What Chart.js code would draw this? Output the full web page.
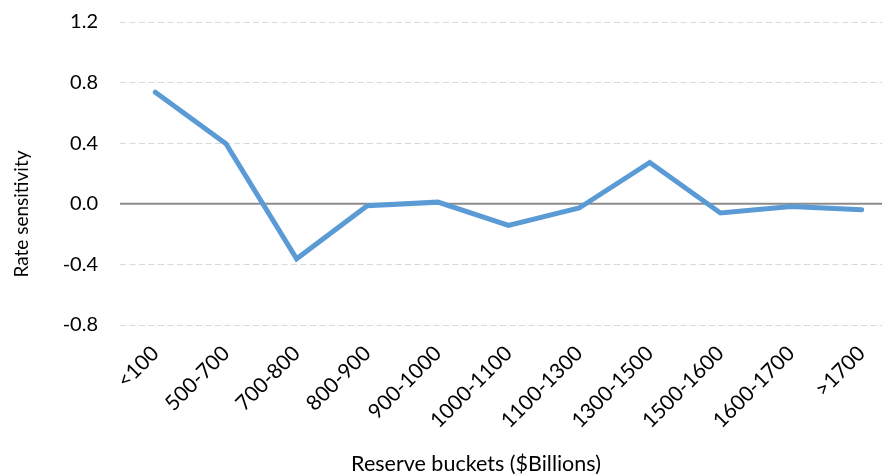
<!DOCTYPE html>
<html>
<head>
<meta charset="utf-8">
<script src="https://cdn.jsdelivr.net/npm/chart.js@4/dist/chart.umd.min.js"></script>
<style>
  html, body { margin: 0; padding: 0; background: #fff; }
  #wrap { width: 882px; height: 475px; overflow: hidden; position: relative; background: #fff; }
  canvas { display: block; }
</style>
</head>
<body>
<div id="wrap"><canvas id="c" width="900" height="475"></canvas></div>
<script>
const categories = ['<100', '500-700', '700-800', '800-900', '900-1000', '1000-1100', '1100-1300', '1300-1500', '1500-1600', '1600-1700', '>1700'];
const rateSensitivity = [0.737, 0.396, -0.363, -0.013, 0.011, -0.143, -0.028, 0.273, -0.061, -0.018, -0.040];
const yTicks = [-0.8, -0.4, 0.0, 0.4, 0.8, 1.2];
const xTitle = 'Reserve buckets ($Billions)';
const yTitle = 'Rate sensitivity';

const FONT = 'Lato, "Open Sans", sans-serif';

const zeroLine = {
  id: 'zeroLine',
  beforeDatasetsDraw(chart) {
    const y = chart.scales.y.getPixelForValue(0);
    const a = chart.chartArea;
    const ctx = chart.ctx;
    ctx.save();
    ctx.strokeStyle = '#8c8c8c';
    ctx.lineWidth = 2;
    ctx.beginPath();
    ctx.moveTo(a.left, y);
    ctx.lineTo(a.right, y);
    ctx.stroke();
    ctx.restore();
  }
};

const axisTitles = {
  id: 'axisTitles',
  afterDraw(chart) {
    const ctx = chart.ctx;
    ctx.save();
    ctx.fillStyle = '#000';
    ctx.textAlign = 'center';
    ctx.textBaseline = 'middle';
    ctx.font = '21.5px ' + FONT;
    ctx.fillText(xTitle, 476, 464);
    ctx.font = '19px ' + FONT;
    ctx.translate(22, 214);
    ctx.rotate(-Math.PI / 2);
    ctx.fillText(yTitle, 0, 0);
    ctx.restore();
  }
};

new Chart(document.getElementById('c'), {
  type: 'line',
  data: {
    labels: categories,
    datasets: [{
      data: rateSensitivity,
      borderColor: '#5b9bd5',
      backgroundColor: '#5b9bd5',
      borderWidth: 5,
      pointRadius: 0,
      tension: 0,
      fill: false,
      borderCapStyle: 'round',
      borderJoinStyle: 'miter'
    }]
  },
  options: {
    responsive: false,
    animation: false,
    devicePixelRatio: 1,
    layout: { padding: { top: 22, right: 3, left: 0, bottom: 0 } },
    plugins: { legend: { display: false }, tooltip: { enabled: false }, title: { display: false } },
    scales: {
      x: {
        offset: true,
        grid: { display: false, drawTicks: false },
        border: { display: false },
        ticks: {
          autoSkip: false,
          maxRotation: 45,
          minRotation: 45,
          padding: 16,
          color: '#000',
          font: { family: FONT, size: 21 }
        },
        afterFit(scale) { scale.height = 150; }
      },
      y: {
        min: -0.8,
        max: 1.2,
        afterBuildTicks(scale) { scale.ticks = yTicks.map(v => ({ value: v })); },
        grid: { color: '#d9d9d9', lineWidth: 1, drawTicks: false },
        border: { display: false, dash: [6, 3.5] },
        ticks: {
          padding: 22,
          color: '#000',
          font: { family: FONT, size: 20 },
          callback: (v) => Number(v).toFixed(1)
        },
        afterFit(scale) {
          scale.width = 120;
          scale.paddingTop = 0;
          scale.paddingBottom = 0;
        }
      }
    }
  },
  plugins: [zeroLine, axisTitles]
});
</script>
</body>
</html>
